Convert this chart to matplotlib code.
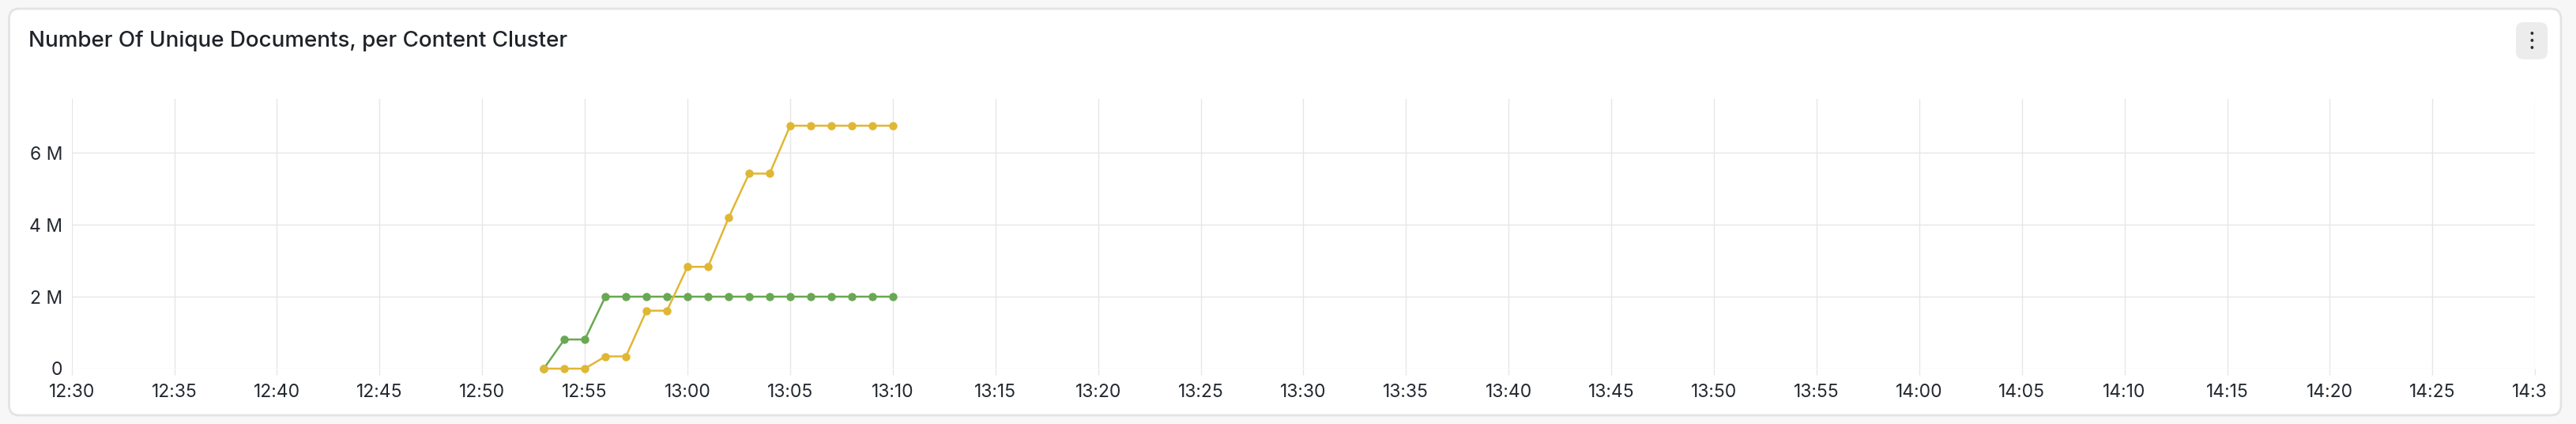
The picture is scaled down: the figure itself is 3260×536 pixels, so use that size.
import matplotlib
matplotlib.use("Agg")
import matplotlib.pyplot as plt
import matplotlib.dates as mdates
from matplotlib.patches import FancyBboxPatch
from matplotlib.ticker import FuncFormatter
from matplotlib.transforms import Bbox, TransformedBbox
import pandas as pd

plt.rcParams['font.family'] = ['Inter', 'DejaVu Sans']

# data (one sample per minute)
times = ["12:53", "12:54", "12:55", "12:56", "12:57", "12:58", "12:59", "13:00", "13:01",
         "13:02", "13:03", "13:04", "13:05", "13:06", "13:07", "13:08", "13:09", "13:10"]
cluster_green = [0, 0.81, 0.81, 2.0, 2.0, 2.0, 2.0, 2.0, 2.0,
                 2.0, 2.0, 2.0, 2.0, 2.0, 2.0, 2.0, 2.0, 2.0]
cluster_yellow = [0, 0, 0, 0.34, 0.34, 1.61, 1.61, 2.83, 2.83,
                  4.19, 5.42, 5.42, 6.75, 6.75, 6.75, 6.75, 6.75, 6.75]
y_ticks = [0, 2, 4, 6]
title = "Number Of Unique Documents, per Content Cluster"

day = "2024-01-01 "
x = pd.to_datetime([day + t for t in times])
green_vals = [v * 1e6 for v in cluster_green]
yellow_vals = [v * 1e6 for v in cluster_yellow]

W, H = 3260, 536
fig = plt.figure(figsize=(W / 100, H / 100), dpi=100)
fig.patch.set_facecolor('#f7f7f7')

# card
card = FancyBboxPatch((11.5 / W, 11 / H), (3241 - 11.5) / W, (525 - 11) / H,
                      boxstyle="round,pad=0,rounding_size=0.004",
                      transform=fig.transFigure, facecolor='white',
                      edgecolor='#e3e3e3', linewidth=2, mutation_aspect=W / H,
                      zorder=-5)
fig.patches.append(card)

fig.text(36 / W, 1 - 52 / H, title, fontsize=20, fontweight=500,
         color='#1f2328', ha='left', va='center')

# menu button
btn = FancyBboxPatch((3184 / W, 1 - 75 / H), 40 / W, 47 / H,
                     boxstyle="round,pad=0,rounding_size=0.003",
                     transform=fig.transFigure, facecolor='#ececec',
                     edgecolor='none', mutation_aspect=W / H, zorder=-4)
fig.patches.append(btn)
for dy in (43, 52, 61):
    fig.text(3204 / W, 1 - dy / H, "\u2022", fontsize=9, color='#2b2f33',
             ha='center', va='center')

ax = fig.add_axes([90.7 / W, 1 - 466 / H, (3208.2 - 90.7) / W, (466 - 124.8) / H])
ax.set_facecolor('none')
ax.set_zorder(2)

ax.plot(x, green_vals, color='#68a852', linewidth=1.8, marker='o', markersize=6.5,
        zorder=3, clip_on=False)
ax.plot(x, yellow_vals, color='#e0b733', linewidth=1.8, marker='o', markersize=6.5,
        zorder=3, clip_on=False)

ax.set_xlim(pd.Timestamp(day + "12:30"), pd.Timestamp(day + "14:30"))
ax.set_ylim(0, 7.5e6)
ax.xaxis.set_major_locator(mdates.MinuteLocator(byminute=range(0, 60, 5)))
ax.xaxis.set_major_formatter(mdates.DateFormatter('%H:%M'))
ax.set_yticks([v * 1e6 for v in y_ticks])
ax.yaxis.set_major_formatter(FuncFormatter(lambda v, p: "0" if v == 0 else f"{v / 1e6:.0f} M"))

for s in ax.spines.values():
    s.set_visible(False)
ax.grid(True, color='#e6e6e6', linewidth=1.0, zorder=0)
ax.tick_params(axis='x', length=6, width=1.0, color='#e6e6e6', pad=8,
               labelsize=16.5, labelcolor='#24292f')
ax.tick_params(axis='y', length=0, pad=8.5, labelsize=16.5, labelcolor='#24292f')

# the panel cuts off the last time label at its inner edge
clip = TransformedBbox(Bbox.from_extents(0, 0, 3224 / W, 1), fig.transFigure)
for lbl in ax.get_xticklabels():
    lbl.set_clip_on(True)
    lbl.set_clip_box(clip)

fig.savefig("out.png", dpi=100, facecolor=fig.get_facecolor())
